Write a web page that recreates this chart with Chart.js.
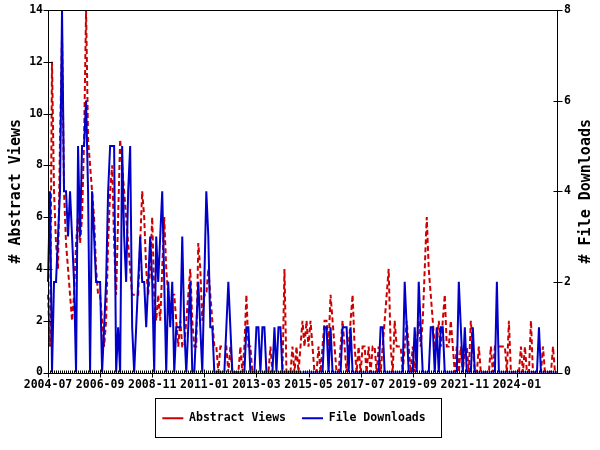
<!DOCTYPE html>
<html>
<head>
<meta charset="utf-8">
<title>Abstract Views and File Downloads</title>
<script src="https://cdn.jsdelivr.net/npm/chart.js@4.4.0/dist/chart.umd.min.js"></script>
<style>
  html, body { margin: 0; padding: 0; background: #fff; }
  canvas { display: block; }
</style>
</head>
<body>
<canvas id="chart" width="600" height="450"></canvas>
<script>
// monthly counts, starting 2004-07
const abstractViews = [
  3, 1, 12, 7, 5, 4, 9, 13, 7, 5,
  4, 3, 2, 3, 5, 6, 5, 6, 9, 14,
  9, 8, 7, 6, 4, 3, 3, 2, 1, 2,
  5, 7, 8, 5, 3, 6, 9, 8, 7, 6,
  5, 4, 3, 3, 3, 3, 5, 7, 6, 4,
  3, 4, 6, 3, 2, 3, 2, 4, 6, 4,
  3, 2, 3, 3, 2, 1, 2, 1, 1, 2,
  3, 4, 2, 1, 1, 5, 4, 2, 3, 3,
  4, 3, 2, 1, 1, 0, 1, 1, 1, 1,
  0, 1, 0, 0, 0, 0, 1, 0, 1, 3,
  1, 1, 0, 0, 0, 0, 0, 0, 0, 0,
  0, 1, 0, 0, 0, 0, 0, 0, 4, 0,
  0, 0, 1, 0, 1, 0, 1, 2, 1, 2,
  1, 2, 1, 0, 0, 1, 0, 1, 2, 2,
  1, 3, 2, 1, 0, 0, 1, 2, 1, 0,
  1, 2, 3, 1, 0, 1, 0, 1, 1, 0,
  1, 0, 1, 1, 0, 1, 0, 1, 2, 3,
  4, 1, 0, 2, 1, 1, 1, 0, 1, 2,
  1, 0, 1, 0, 1, 2, 1, 2, 4, 6,
  4, 3, 2, 1, 1, 2, 1, 2, 3, 1,
  1, 2, 1, 0, 1, 0, 1, 0, 1, 1,
  0, 2, 1, 0, 0, 1, 0, 0, 0, 0,
  0, 1, 0, 1, 1, 1, 1, 1, 1, 0,
  2, 0, 0, 0, 0, 0, 1, 0, 1, 0,
  0, 2, 0, 0, 0, 0, 0, 1, 0, 0,
  0, 0, 1, 0, 0
];

const fileDownloads = [
  2, 4, 0, 2, 2, 3, 4, 8, 4, 4,
  3, 4, 3, 2, 0, 5, 3, 5, 5, 6,
  4, 0, 4, 3, 2, 2, 2, 0, 1, 2,
  4, 5, 5, 5, 0, 1, 0, 5, 3, 2,
  4, 5, 1, 0, 1, 2, 3, 2, 2, 1,
  2, 3, 2, 0, 3, 2, 3, 4, 2, 0,
  2, 1, 2, 0, 1, 1, 1, 3, 1, 0,
  1, 2, 0, 0, 1, 2, 1, 0, 2, 4,
  3, 1, 1, 0, 0, 0, 0, 0, 0, 1,
  2, 1, 0, 0, 0, 0, 0, 0, 0, 1,
  1, 0, 0, 0, 1, 1, 0, 1, 1, 0,
  0, 0, 0, 1, 0, 1, 1, 0, 0, 0,
  0, 0, 0, 0, 0, 0, 0, 0, 0, 0,
  0, 0, 0, 0, 0, 0, 0, 0, 1, 1,
  0, 1, 0, 0, 0, 0, 0, 1, 1, 1,
  0, 1, 0, 0, 0, 0, 0, 0, 0, 0,
  0, 0, 0, 0, 0, 0, 1, 1, 0, 0,
  0, 0, 0, 0, 0, 0, 0, 0, 2, 1,
  0, 0, 0, 1, 0, 2, 1, 0, 0, 0,
  0, 1, 1, 0, 1, 0, 1, 1, 0, 0,
  0, 0, 0, 0, 0, 2, 1, 0, 1, 0,
  0, 0, 1, 0, 0, 0, 0, 0, 0, 0,
  0, 0, 0, 0, 2, 0, 0, 0, 0, 0,
  0, 0, 0, 0, 0, 0, 0, 0, 0, 0,
  0, 0, 0, 0, 0, 1, 0, 0, 0, 0,
  0, 0, 0, 0, 0
];

const tickLabels = ["2004-07", "2006-09", "2008-11", "2011-01", "2013-03",
                    "2015-05", "2017-07", "2019-09", "2021-11", "2024-01"];

const months = [];
for (let i = 0; i < abstractViews.length; i++) {
  const m = 6 + i;
  months.push(`${2004 + Math.floor(m / 12)}-${String(m % 12 + 1).padStart(2, "0")}`);
}

const MONO = "'DejaVu Sans Mono', monospace";

// frame, inward/outward tic marks, legend box and the right-hand title
const frameAndTicks = {
  id: "frameAndTicks",
  afterLayout(chart) {
    chart.legend.left -= 6;
    chart.legend.right -= 6;
  },
  afterDatasetsDraw(chart) {
    const { ctx, chartArea: a, scales } = chart;
    const L = Math.round(a.left) + 0.5, R = Math.round(a.right) + 0.5;
    const T = Math.round(a.top) + 0.5, B = Math.round(a.bottom) + 0.5;
    ctx.save();
    ctx.strokeStyle = "#000";
    ctx.lineWidth = 1;
    ctx.beginPath();
    ctx.rect(L, T, R - L, B - T);

    months.forEach((m, i) => {
      const x = Math.round(scales.x.getPixelForValue(i)) + 0.5;
      if (tickLabels.includes(m)) {
        ctx.moveTo(x, B - 4);
        ctx.lineTo(x, B + 4);
      } else {
        ctx.moveTo(x, B - 3);
        ctx.lineTo(x, B);
      }
    });
    scales.y.ticks.forEach(t => {
      const y = Math.round(scales.y.getPixelForValue(t.value)) + 0.5;
      ctx.moveTo(L - 5, y);
      ctx.lineTo(L + 4, y);
    });
    scales.y2.ticks.forEach(t => {
      const y = Math.round(scales.y2.getPixelForValue(t.value)) + 0.5;
      ctx.moveTo(R - 4, y);
      ctx.lineTo(R + 5, y);
    });
    ctx.stroke();
    ctx.restore();
  },
  afterDraw(chart) {
    const { ctx, chartArea: a, legend } = chart;
    ctx.save();
    // box round the legend
    const boxes = legend.legendHitBoxes;
    if (boxes && boxes.length) {
      const first = boxes[0], last = boxes[boxes.length - 1];
      const cy = first.top + first.height / 2;
      const x0 = Math.round(first.left - 7) + 0.5;
      const x1 = Math.round(last.left + last.width + 15) + 0.5;
      ctx.strokeStyle = "#000";
      ctx.lineWidth = 1;
      ctx.strokeRect(x0, Math.round(cy - 20) + 0.5, x1 - x0, 39);
    }
    // right axis title reads bottom to top like the left one
    ctx.translate(586, (a.top + a.bottom) / 2);
    ctx.rotate(-Math.PI / 2);
    ctx.fillStyle = "#000";
    ctx.font = `bold 15px ${MONO}`;
    ctx.textAlign = "center";
    ctx.textBaseline = "middle";
    ctx.fillText("# File Downloads", 0, 0);
    ctx.restore();
  }
};

function fitY(width) {
  return scale => {
    scale.width = width;
    scale.paddingTop = 0;
    scale.paddingBottom = 0;
  };
}

new Chart(document.getElementById("chart").getContext("2d"), {
  type: "line",
  data: {
    labels: months,
    datasets: [
      {
        label: "Abstract Views",
        data: abstractViews,
        yAxisID: "y",
        borderColor: "#cc0000",
        backgroundColor: "#cc0000",
        borderWidth: 2,
        borderDash: [5, 3],
        pointRadius: 0,
        tension: 0,
        order: 1
      },
      {
        label: "File Downloads",
        data: fileDownloads,
        yAxisID: "y2",
        borderColor: "#0000c8",
        backgroundColor: "#0000c8",
        borderWidth: 2,
        pointRadius: 0,
        tension: 0,
        order: 0
      }
    ]
  },
  options: {
    responsive: false,
    animation: false,
    layout: { padding: { top: 10, right: 0, bottom: 16, left: 0 } },
    scales: {
      x: {
        type: "category",
        offset: false,
        grid: { display: false, drawTicks: false },
        border: { display: false },
        afterFit(scale) { scale.height = 24; },
        ticks: {
          autoSkip: false,
          maxRotation: 0,
          minRotation: 0,
          padding: 6,
          color: "#000",
          font: { family: MONO, size: 11.5, weight: "bold" },
          callback: (v, i) => tickLabels.includes(months[i]) ? months[i] : ""
        }
      },
      y: {
        position: "left",
        min: 0,
        max: 14,
        grid: { display: false, drawTicks: false },
        border: { display: false },
        afterFit: fitY(48),
        ticks: {
          stepSize: 2,
          padding: 5,
          color: "#000",
          font: { family: MONO, size: 11.5, weight: "bold" }
        },
        title: {
          display: true,
          text: "# Abstract Views",
          color: "#000",
          padding: { top: 7, bottom: 0 },
          font: { family: MONO, size: 15, weight: "bold" }
        }
      },
      y2: {
        position: "right",
        min: 0,
        max: 8,
        grid: { display: false, drawTicks: false },
        border: { display: false },
        afterFit: fitY(43),
        ticks: {
          stepSize: 2,
          padding: 7,
          color: "#000",
          font: { family: MONO, size: 11.5, weight: "bold" }
        }
      }
    },
    plugins: {
      tooltip: { enabled: false },
      legend: {
        position: "bottom",
        labels: {
          usePointStyle: true,
          pointStyle: "line",
          pointStyleWidth: 21,
          padding: 16,
          color: "#000",
          font: { family: MONO, size: 11.5, weight: "bold" },
          sort: (a, b) => a.datasetIndex - b.datasetIndex
        }
      }
    }
  },
  plugins: [frameAndTicks]
});
</script>
</body>
</html>
